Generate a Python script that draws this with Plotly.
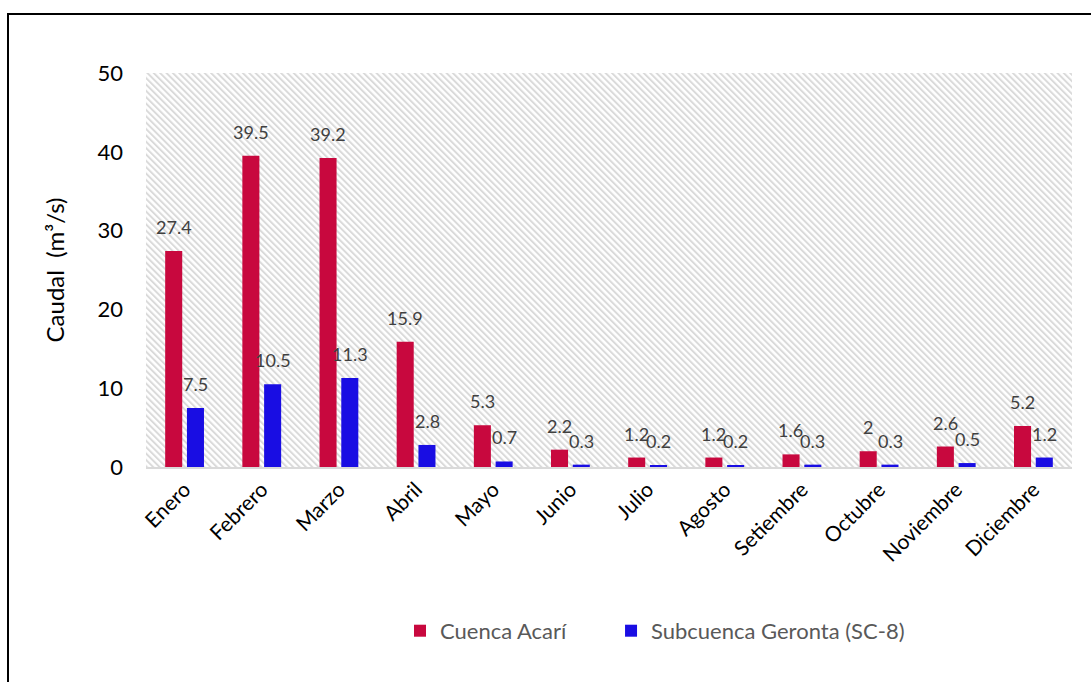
import base64
import plotly.graph_objects as go

# Monthly mean discharge (m³/s)
meses = ["Enero", "Febrero", "Marzo", "Abril", "Mayo", "Junio", "Julio",
         "Agosto", "Setiembre", "Octubre", "Noviembre", "Diciembre"]
cuenca_acari = [27.4, 39.5, 39.2, 15.9, 5.3, 2.2, 1.2, 1.2, 1.6, 2, 2.6, 5.2]
subcuenca_geronta = [7.5, 10.5, 11.3, 2.8, 0.7, 0.3, 0.2, 0.2, 0.3, 0.3, 0.5, 1.2]
y_ticks = [0, 10, 20, 30, 40, 50]

ROJO = "#C8083E"
AZUL = "#190DE3"
FONT = "Lato, 'Open Sans', sans-serif"

W, H = 1091, 682
ML, MR, MT, MB = 146, 19, 73, 215
PW, PH = W - ML - MR, H - MT - MB

# Diagonal hatch used as the plot-area background
hatch_svg = f"""<svg xmlns='http://www.w3.org/2000/svg' width='{PW}' height='{PH}' viewBox='0 0 {PW} {PH}'>
<defs><pattern id='h' patternUnits='userSpaceOnUse' width='4.5' height='4.5' patternTransform='rotate(-45)'>
<rect x='0' y='0' width='2' height='4.5' fill='#dadada'/></pattern></defs>
<rect width='{PW}' height='{PH}' fill='url(#h)'/></svg>"""
hatch_uri = "data:image/svg+xml;base64," + base64.b64encode(hatch_svg.encode()).decode()

fig = go.Figure()
fig.add_trace(go.Bar(x=meses, y=cuenca_acari, name="Cuenca Acarí", legend="legend",
                     marker=dict(color=ROJO, line=dict(width=0))))
fig.add_trace(go.Bar(x=meses, y=subcuenca_geronta, name="Subcuenca Geronta (SC-8)",
                     legend="legend2", marker=dict(color=AZUL, line=dict(width=0))))

# Value labels above each bar
annotations = []
for serie, shift in ((cuenca_acari, -11), (subcuenca_geronta, 11)):
    for mes, v in zip(meses, serie):
        annotations.append(dict(
            x=mes, y=v, xref="x", yref="y", text=f"{v:g}", showarrow=False,
            xshift=shift, yshift=11, yanchor="bottom", xanchor="center",
            font=dict(family=FONT, size=18, color="#404040")))

legend_style = dict(orientation="h", y=-0.416, xanchor="left", yanchor="middle",
                    font=dict(family=FONT, size=22, color="#595959"),
                    itemwidth=30, itemclick=False, bgcolor="rgba(0,0,0,0)")

fig.update_layout(
    width=W, height=H,
    margin=dict(l=ML, r=MR, t=MT, b=MB, pad=0),
    paper_bgcolor="white",
    plot_bgcolor="rgba(0,0,0,0)",
    barmode="group", bargap=0.436, bargroupgap=0.217,
    font=dict(family=FONT, color="black"),
    showlegend=True,
    legend=dict(x=0.2743, **legend_style),
    legend2=dict(x=0.5022, **legend_style),
    annotations=annotations,
    images=[dict(source=hatch_uri, xref="paper", yref="paper", x=0, y=1,
                 sizex=1, sizey=1, xanchor="left", yanchor="top",
                 sizing="stretch", layer="below")],
    shapes=[dict(type="rect", xref="paper", yref="paper",
                 x0=(8 - ML) / PW, x1=1.2, y0=-1.0, y1=(H - MB - 14) / PH,
                 line=dict(color="black", width=2), fillcolor="rgba(0,0,0,0)",
                 layer="above")],
)

fig.update_xaxes(
    tickangle=-45, tickfont=dict(family=FONT, size=21, color="black"),
    showgrid=False, showline=True, linecolor="#d9d9d9", linewidth=2,
    ticks="", zeroline=False,
)
fig.update_yaxes(
    range=[0, 50], tickvals=y_ticks,
    tickfont=dict(family=FONT, size=22, color="black"),
    showgrid=False, zeroline=False, showline=False, ticks="",
    ticklabelstandoff=22,
    title=dict(text="Caudal  (m³/s)", font=dict(family=FONT, size=24, color="black"),
               standoff=26),
)

fig.write_html("out.html")
